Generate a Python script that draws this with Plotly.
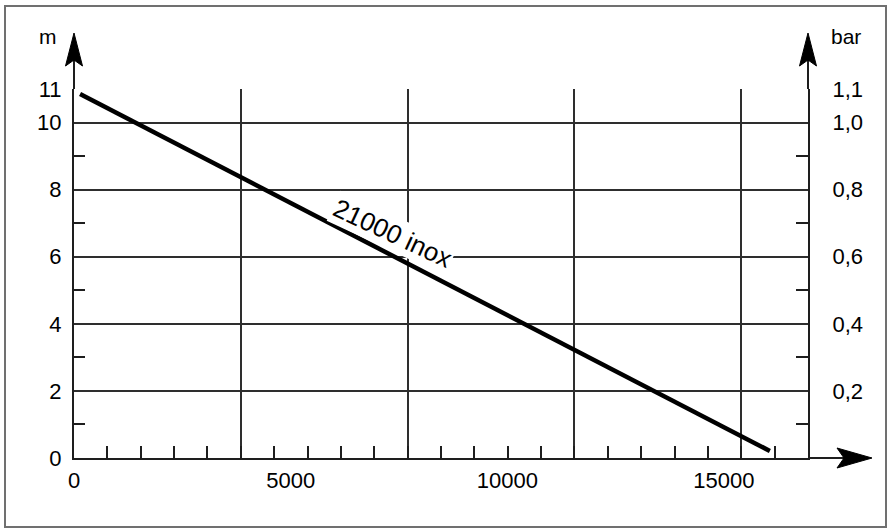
import plotly.graph_objects as go

# ---- data ----
flow_lph = [140, 16060]            # flow rate, l/h
head_m = [10.85, 0.21]             # head, m
curve_label = "21000 inox"

head_ticks = [0, 2, 4, 6, 8, 10, 11]
head_tick_labels = ["0", "2", "4", "6", "8", "10", "11"]
head_minor = [1, 3, 5, 7, 9]

bar_ticks = [0.2, 0.4, 0.6, 0.8, 1.0, 1.1]
bar_tick_labels = ["0,2", "0,4", "0,6", "0,8", "1,0", "1,1"]
bar_minor = [0.1, 0.3, 0.5, 0.7, 0.9]

flow_ticks = [0, 5000, 10000, 15000]
flow_tick_labels = ["0", "5000", "10000", "15000"]

GRID_STEP = 3850
MINOR_STEP = 770
X_MAX = 22 * MINOR_STEP
Y_MAX = 11
BAR_MAX = 1.1

label_pos = (7340, 6.7)

# ---- layout geometry (pixels) ----
W, H = 889, 529
ML, MR, MT, MB = 74, 81, 89, 71
PW, PH = W - ML - MR, H - MT - MB
BOTTOM = H - MB
RIGHT = W - MR

def px(x):
    return (x - ML) / PW

def py(y):
    return (BOTTOM - y) / PH

FONT = "Liberation Sans, Arial, Helvetica, sans-serif"
INK = "#1e1e1e"
GRID = "#2e2e2e"

fig = go.Figure()
fig.add_trace(go.Scatter(
    x=flow_lph, y=head_m, mode="lines",
    line=dict(color="#000000", width=4.5),
    xaxis="x", yaxis="y", hoverinfo="x+y", name=curve_label,
))
# same curve expressed in bar for the right-hand scale (not visible)
fig.add_trace(go.Scatter(
    x=flow_lph, y=[h / 10 for h in head_m], mode="lines",
    line=dict(color="rgba(0,0,0,0)", width=1),
    xaxis="x2", yaxis="y2", hoverinfo="skip", showlegend=False,
))

tickfont = dict(family=FONT, size=22, color="#000")

shapes = []
# outer frame
shapes.append(dict(type="rect", xref="paper", yref="paper",
                   x0=px(5), x1=px(886), y0=py(527), y1=py(6),
                   line=dict(color="#707070", width=2)))
# axis extensions above the grid and to the right
for ax in (ML, RIGHT):
    shapes.append(dict(type="line", xref="paper", yref="paper",
                       x0=px(ax), x1=px(ax), y0=py(MT), y1=py(60),
                       line=dict(color=INK, width=2)))
    shapes.append(dict(type="path", xref="paper", yref="paper",
                       path=(f"M{px(ax)},{py(33)} L{px(ax - 8.5)},{py(66)} "
                             f"L{px(ax)},{py(60)} L{px(ax + 8.5)},{py(66)} Z"),
                       fillcolor="#000", line=dict(color="#000", width=1)))
shapes.append(dict(type="line", xref="paper", yref="paper",
                   x0=px(RIGHT), x1=px(845), y0=py(BOTTOM), y1=py(BOTTOM),
                   line=dict(color=INK, width=2)))
shapes.append(dict(type="path", xref="paper", yref="paper",
                   path=(f"M{px(872)},{py(BOTTOM)} L{px(837)},{py(BOTTOM - 10)} "
                         f"L{px(844)},{py(BOTTOM)} L{px(837)},{py(BOTTOM + 10)} Z"),
                   fillcolor="#000", line=dict(color="#000", width=1)))

annotations = [
    dict(x=label_pos[0], y=label_pos[1], xref="x", yref="y",
         text=curve_label, showarrow=False, textangle=25,
         xanchor="center", yanchor="middle",
         font=dict(family=FONT, size=26, color="#000"),
         bgcolor="#ffffff", borderpad=1),
    dict(x=px(48), y=py(37), xref="paper", yref="paper", text="m",
         xanchor="center", yanchor="middle",
         showarrow=False, font=dict(family=FONT, size=21, color="#000")),
    dict(x=px(846), y=py(37), xref="paper", yref="paper", text="bar",
         xanchor="center", yanchor="middle",
         showarrow=False, font=dict(family=FONT, size=21, color="#000")),
]

fig.update_layout(
    width=W, height=H, autosize=False,
    margin=dict(l=ML, r=MR, t=MT, b=MB, pad=0),
    paper_bgcolor="#ffffff", plot_bgcolor="#ffffff",
    showlegend=False,
    font=dict(family=FONT, color="#000"),
    xaxis=dict(
        range=[0, X_MAX], tickmode="array",
        tickvals=[GRID_STEP * k for k in range(1, 5)],
        showticklabels=False, ticks="",
        showgrid=True, gridcolor=GRID, gridwidth=2,
        showline=True, linecolor=INK, linewidth=2, zeroline=False,
        minor=dict(tickmode="array",
                   tickvals=[MINOR_STEP * k for k in range(1, 22)],
                   ticks="inside", ticklen=12, tickwidth=2, tickcolor=INK,
                   showgrid=False),
        fixedrange=True,
    ),
    xaxis2=dict(
        range=[0, X_MAX], overlaying="x", side="bottom", anchor="y",
        tickmode="array", tickvals=flow_ticks, ticktext=flow_tick_labels,
        ticks="", showgrid=False, showline=False, zeroline=False,
        tickfont=tickfont, ticklabelstandoff=7, fixedrange=True,
    ),
    yaxis=dict(
        range=[0, Y_MAX], tickmode="array", tickvals=head_ticks,
        ticktext=head_tick_labels, ticks="",
        showgrid=True, gridcolor=GRID, gridwidth=2,
        showline=True, linecolor=INK, linewidth=2, zeroline=False,
        tickfont=tickfont, ticklabelstandoff=6,
        minor=dict(tickmode="array", tickvals=head_minor, ticks="inside",
                   ticklen=11, tickwidth=2, tickcolor=INK, showgrid=False),
        fixedrange=True,
    ),
    yaxis2=dict(
        range=[0, BAR_MAX], overlaying="y", side="right", anchor="x",
        tickmode="array", tickvals=bar_ticks, ticktext=bar_tick_labels,
        ticks="", showgrid=False,
        showline=True, linecolor=INK, linewidth=2, zeroline=False,
        tickfont=tickfont, ticklabelstandoff=18,
        minor=dict(tickmode="array", tickvals=bar_minor, ticks="inside",
                   ticklen=12, tickwidth=2, tickcolor=INK, showgrid=False),
        fixedrange=True,
    ),
    shapes=shapes,
    annotations=annotations,
)

fig.write_html("out.html")
